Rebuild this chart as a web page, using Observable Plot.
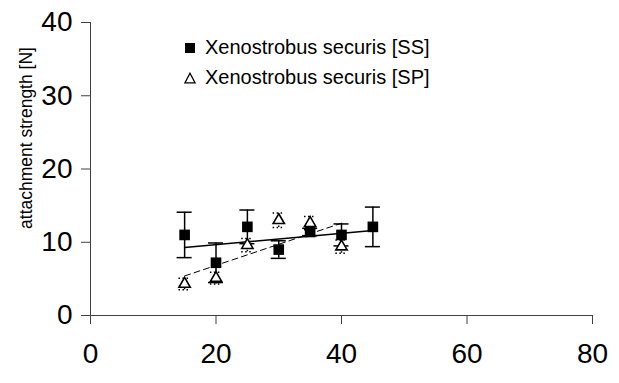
<!DOCTYPE html>
<html>
<head>
<meta charset="utf-8">
<script src="https://cdn.jsdelivr.net/npm/d3@7"></script>
<script src="https://cdn.jsdelivr.net/npm/@observablehq/plot@0.6"></script>
<style>
  html, body { margin: 0; padding: 0; background: #fff; }
  #wrap { position: relative; width: 619px; height: 383px; font-family: "Liberation Sans", Arial, sans-serif; color: #000; }
  #wrap svg { position: absolute; left: 0; top: 0; }
  .ytitle { position: absolute; left: 26px; top: 138px; transform: translate(-50%, -50%) rotate(-90deg); font-size: 17.5px; white-space: nowrap; }
  .leg { position: absolute; left: 184px; font-size: 20px; white-space: nowrap; display: flex; align-items: center; }
  .leg svg { position: static !important; margin-right: 9px; }
</style>
</head>
<body>
<div id="wrap"></div>
<script>
// ---- data ----
const ssSizes = [15, 20, 25, 30, 35, 40, 45];
const ssMean  = [11.0, 7.2, 12.1, 9.0, 11.4, 11.0, 12.1];
const ssErr   = [3.1, 2.7, 2.3, 1.2, 0.5, 1.5, 2.7];

const spSizes = [15, 20, 25, 30, 35, 40];
const spMean  = [4.3, 5.1, 9.6, 13.0, 12.6, 9.4];
const spErr   = [0.8, 0.8, 0.9, 1.0, 0.9, 0.9];

const ssFitX = [15, 45];
const ssFitY = [9.3, 11.6];
const spFitX = [15, 40];
const spFitY = [5.4, 12.6];

const xTicks = [0, 20, 40, 60, 80];
const yTicks = [0, 10, 20, 30, 40];

const seriesNames = ["Xenostrobus securis [SS]", "Xenostrobus securis [SP]"];
const yTitle = "attachment strength [N]";

// ---- tables ----
const ss = ssSizes.map((x, i) => ({x, y: ssMean[i], lo: ssMean[i] - ssErr[i], hi: ssMean[i] + ssErr[i]}));
const sp = spSizes.map((x, i) => ({x, y: spMean[i], lo: spMean[i] - spErr[i], hi: spMean[i] + spErr[i]}));
const ssFit = ssFitX.map((x, i) => ({x, y: ssFitY[i]}));
const spFit = spFitX.map((x, i) => ({x, y: spFitY[i]}));
const capSS = 1.2, capSP = 0.9; // cap half-widths in x units
const ssCaps = ss.flatMap(d => [{x: d.x, y: d.lo}, {x: d.x, y: d.hi}]);
const spCaps = sp.flatMap(d => [{x: d.x, y: d.lo}, {x: d.x, y: d.hi}]);

const axisColor = "#404040";

const chart = Plot.plot({
  width: 619,
  height: 383,
  marginLeft: 90,
  marginRight: 27,
  marginTop: 22,
  marginBottom: 68,
  style: {fontFamily: "'Liberation Sans', Arial, sans-serif", background: "transparent", color: "#000"},
  x: {domain: [0, 80], ticks: xTicks},
  y: {domain: [0, 40], ticks: yTicks},
  marks: [
    Plot.axisX({ticks: xTicks, tickSize: 9, tickPadding: 19, fontSize: 28, stroke: axisColor, label: null, tickFormat: d => String(d)}),
    Plot.axisY({ticks: yTicks, tickSize: 9, tickPadding: 9, fontSize: 28, stroke: axisColor, label: null, tickFormat: d => String(d)}),
    Plot.ruleX([0], {y1: 0, y2: 40, stroke: axisColor}),
    Plot.ruleY([0], {x1: 0, x2: 80, stroke: axisColor}),
    // SP dotted error bars
    Plot.ruleX(sp, {x: "x", y1: "lo", y2: "hi", stroke: "#000", strokeDasharray: "1.5,2.5", strokeWidth: 1.5}),
    Plot.ruleY(spCaps, {y: "y", x1: d => d.x - capSP, x2: d => d.x + capSP, stroke: "#000", strokeDasharray: "1.5,2.5", strokeWidth: 1.5}),
    // SP dashed trend
    Plot.line(spFit, {x: "x", y: "y", stroke: "#000", strokeWidth: 1, strokeDasharray: "6,4"}),
    // SS error bars
    Plot.ruleX(ss, {x: "x", y1: "lo", y2: "hi", stroke: "#000", strokeWidth: 1.5}),
    Plot.ruleY(ssCaps, {y: "y", x1: d => d.x - capSS, x2: d => d.x + capSS, stroke: "#000", strokeWidth: 1.5}),
    // SS solid trend
    Plot.line(ssFit, {x: "x", y: "y", stroke: "#000", strokeWidth: 1.5}),
    // markers
    Plot.dot(sp, {x: "x", y: "y", symbol: "triangle", r: 4.2, fill: "#fff", stroke: "#000", strokeWidth: 1.6}),
    Plot.dot(ss, {x: "x", y: "y", symbol: "square", r: 6, fill: "#000", stroke: "none"})
  ]
});

const wrap = document.getElementById("wrap");
wrap.appendChild(chart);

const t = document.createElement("div");
t.className = "ytitle";
t.textContent = yTitle;
wrap.appendChild(t);

const legTops = [36, 66];
const markers = [
  '<svg width="12" height="12" viewBox="0 0 12 12"><rect x="1" y="1" width="10" height="10" fill="#000"/></svg>',
  '<svg width="12" height="12" viewBox="0 0 12 12"><path d="M6,1.2L11,10.8L1,10.8Z" fill="#fff" stroke="#000" stroke-width="1.3"/></svg>'
];
seriesNames.forEach((name, i) => {
  const d = document.createElement("div");
  d.className = "leg";
  d.style.top = legTops[i] + "px";
  d.innerHTML = markers[i] + "<span></span>";
  d.querySelector("span").textContent = name;
  wrap.appendChild(d);
});
</script>
</body>
</html>
